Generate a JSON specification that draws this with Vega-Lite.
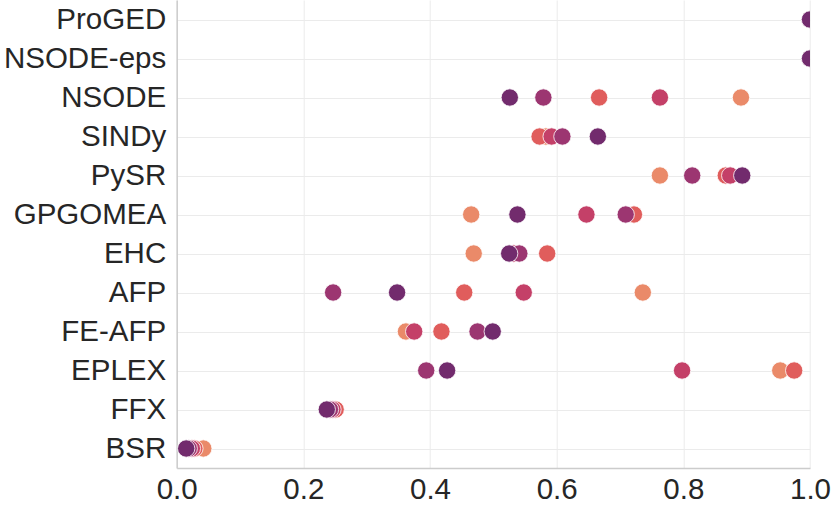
{
  "$schema": "https://vega.github.io/schema/vega-lite/v6.json",
  "autosize": {"type": "none"},
  "padding": {"left": 176.7, "top": 0, "right": 21, "bottom": 39},
  "width": 633.3,
  "height": 468,
  "background": "white",
  "config": {
    "view": {"stroke": null},
    "font": "Liberation Sans",
    "axis": {
      "labelFont": "Liberation Sans",
      "labelFontSize": 29.5,
      "labelColor": "#262626",
      "gridColor": "#ebebeb",
      "gridWidth": 1,
      "domainColor": "#cccccc",
      "domainWidth": 1.5,
      "ticks": false,
      "title": null
    }
  },
  "data": {
    "values": [
      {"method": "ProGED", "hue": "h1", "value": 1.0},
      {"method": "ProGED", "hue": "h2", "value": 1.0},
      {"method": "ProGED", "hue": "h3", "value": 1.0},
      {"method": "ProGED", "hue": "h4", "value": 1.0},
      {"method": "ProGED", "hue": "h5", "value": 1.0},
      {"method": "NSODE-eps", "hue": "h1", "value": 1.0},
      {"method": "NSODE-eps", "hue": "h2", "value": 1.0},
      {"method": "NSODE-eps", "hue": "h3", "value": 1.0},
      {"method": "NSODE-eps", "hue": "h4", "value": 1.0},
      {"method": "NSODE-eps", "hue": "h5", "value": 1.0},
      {"method": "NSODE", "hue": "h1", "value": 0.891},
      {"method": "NSODE", "hue": "h2", "value": 0.667},
      {"method": "NSODE", "hue": "h3", "value": 0.763},
      {"method": "NSODE", "hue": "h4", "value": 0.579},
      {"method": "NSODE", "hue": "h5", "value": 0.526},
      {"method": "SINDy", "hue": "h1", "value": 0.583},
      {"method": "SINDy", "hue": "h2", "value": 0.573},
      {"method": "SINDy", "hue": "h3", "value": 0.592},
      {"method": "SINDy", "hue": "h4", "value": 0.609},
      {"method": "SINDy", "hue": "h5", "value": 0.665},
      {"method": "PySR", "hue": "h1", "value": 0.763},
      {"method": "PySR", "hue": "h2", "value": 0.867},
      {"method": "PySR", "hue": "h3", "value": 0.874},
      {"method": "PySR", "hue": "h4", "value": 0.814},
      {"method": "PySR", "hue": "h5", "value": 0.893},
      {"method": "GPGOMEA", "hue": "h1", "value": 0.465},
      {"method": "GPGOMEA", "hue": "h2", "value": 0.722},
      {"method": "GPGOMEA", "hue": "h3", "value": 0.647},
      {"method": "GPGOMEA", "hue": "h4", "value": 0.709},
      {"method": "GPGOMEA", "hue": "h5", "value": 0.538},
      {"method": "EHC", "hue": "h1", "value": 0.469},
      {"method": "EHC", "hue": "h2", "value": 0.585},
      {"method": "EHC", "hue": "h3", "value": 0.532},
      {"method": "EHC", "hue": "h4", "value": 0.541},
      {"method": "EHC", "hue": "h5", "value": 0.525},
      {"method": "AFP", "hue": "h1", "value": 0.736},
      {"method": "AFP", "hue": "h2", "value": 0.454},
      {"method": "AFP", "hue": "h3", "value": 0.548},
      {"method": "AFP", "hue": "h4", "value": 0.247},
      {"method": "AFP", "hue": "h5", "value": 0.348},
      {"method": "FE-AFP", "hue": "h1", "value": 0.362},
      {"method": "FE-AFP", "hue": "h2", "value": 0.418},
      {"method": "FE-AFP", "hue": "h3", "value": 0.375},
      {"method": "FE-AFP", "hue": "h4", "value": 0.475},
      {"method": "FE-AFP", "hue": "h5", "value": 0.499},
      {"method": "EPLEX", "hue": "h1", "value": 0.953},
      {"method": "EPLEX", "hue": "h2", "value": 0.975},
      {"method": "EPLEX", "hue": "h3", "value": 0.798},
      {"method": "EPLEX", "hue": "h4", "value": 0.394},
      {"method": "EPLEX", "hue": "h5", "value": 0.427},
      {"method": "FFX", "hue": "h1", "value": 0.248},
      {"method": "FFX", "hue": "h2", "value": 0.251},
      {"method": "FFX", "hue": "h3", "value": 0.246},
      {"method": "FFX", "hue": "h4", "value": 0.242},
      {"method": "FFX", "hue": "h5", "value": 0.237},
      {"method": "BSR", "hue": "h1", "value": 0.042},
      {"method": "BSR", "hue": "h2", "value": 0.028},
      {"method": "BSR", "hue": "h3", "value": 0.024},
      {"method": "BSR", "hue": "h4", "value": 0.019},
      {"method": "BSR", "hue": "h5", "value": 0.015}
    ]
  },
  "mark": {
    "type": "point",
    "shape": "circle",
    "filled": true,
    "size": 300,
    "opacity": 1,
    "stroke": "white",
    "strokeWidth": 0.8,
    "clip": true
  },
  "encoding": {
    "x": {
      "field": "value",
      "type": "quantitative",
      "scale": {"domain": [0, 1], "nice": false, "zero": false},
      "axis": {
        "values": [0, 0.2, 0.4, 0.6, 0.8, 1.0],
        "format": ".1f",
        "labelPadding": 7,
        "labelFlush": false
      }
    },
    "y": {
      "field": "method",
      "type": "nominal",
      "sort": ["ProGED", "NSODE-eps", "NSODE", "SINDy", "PySR", "GPGOMEA", "EHC", "AFP", "FE-AFP", "EPLEX", "FFX", "BSR"],
      "scale": {"type": "point", "padding": 0.5},
      "axis": {"labelPadding": 11, "grid": true}
    },
    "color": {
      "field": "hue",
      "type": "nominal",
      "scale": {
        "domain": ["h1", "h2", "h3", "h4", "h5"],
        "range": ["#ea8a69", "#e05d5c", "#c44068", "#9c3671", "#722b6d"]
      },
      "legend": null
    }
  }
}
